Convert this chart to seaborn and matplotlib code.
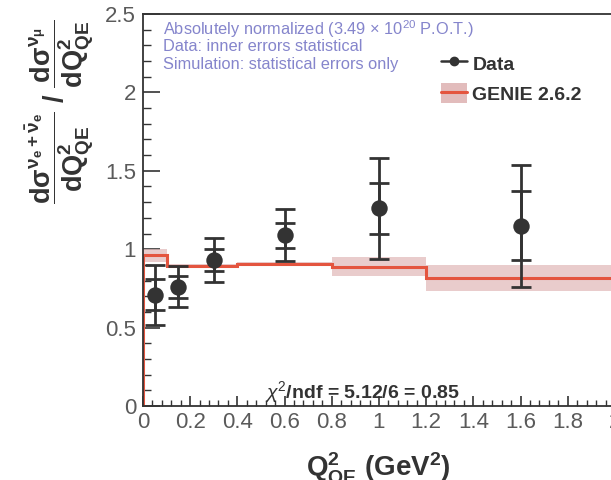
import numpy as np
import matplotlib
matplotlib.use("Agg")
import matplotlib.pyplot as plt
import seaborn as sns
from matplotlib.lines import Line2D
from matplotlib.patches import Patch
from matplotlib.ticker import MultipleLocator

# ── DATA ─────────────────────────────────────────────────────────────────────
q2_points = [0.05, 0.15, 0.3, 0.6, 1.0, 1.6]
ratio     = [0.71, 0.76, 0.93, 1.09, 1.26, 1.15]
err_stat  = [0.10, 0.07, 0.07, 0.08, 0.16, 0.22]
err_total = [0.19, 0.13, 0.14, 0.165, 0.32, 0.39]

genie_edges = [0.0, 0.1, 0.2, 0.4, 0.8, 1.2, 2.0]
genie_ratio = [0.96, 0.895, 0.895, 0.906, 0.888, 0.814]
genie_err   = [0.04, 0.012, 0.010, 0.012, 0.06, 0.083]

x_ticks = [0, 0.2, 0.4, 0.6, 0.8, 1, 1.2, 1.4, 1.6, 1.8, 2]
y_ticks = [0, 0.5, 1, 1.5, 2, 2.5]

# ── STYLE ────────────────────────────────────────────────────────────────────
sns.set_theme(style="ticks")
plt.rcParams["font.family"] = ["Liberation Sans", "DejaVu Sans"]
plt.rcParams["mathtext.fontset"] = "custom"
plt.rcParams["mathtext.rm"] = "Liberation Sans"
plt.rcParams["mathtext.bf"] = "Liberation Sans:bold"
plt.rcParams["mathtext.it"] = "Liberation Sans:italic"

dark = "#333333"
red = "#e4553f"
band = "#e2bcbc"

fig = plt.figure(figsize=(6.11, 4.8), dpi=100)
ax = fig.add_axes([0.234, 0.154, 0.7725, 0.817])

# GENIE band + histogram
lo = np.array(genie_ratio) - np.array(genie_err)
hi = np.array(genie_ratio) + np.array(genie_err)
ax.fill_between(genie_edges, np.append(lo, lo[-1]), np.append(hi, hi[-1]),
                step="post", color=band, alpha=0.75, lw=0)
ax.stairs(genie_ratio, genie_edges, baseline=0, color=red, lw=2.2)

# Data: outer (total) and inner (stat) error bars
ax.errorbar(q2_points, ratio, yerr=err_total, fmt="none", ecolor=dark,
            elinewidth=2, capsize=7, capthick=2)
ax.errorbar(q2_points, ratio, yerr=err_stat, fmt="none", ecolor=dark,
            elinewidth=2, capsize=7, capthick=2)
sns.scatterplot(x=q2_points, y=ratio, s=140, color=dark, edgecolor=dark,
                linewidth=0, ax=ax, zorder=5)

ax.set_xlim(0, 2)
ax.set_ylim(0, 2.5)
ax.set_xticks(x_ticks)
ax.set_xticklabels([f"{t:g}" for t in x_ticks])
ax.set_yticks(y_ticks)
ax.set_yticklabels([f"{t:g}" for t in y_ticks])
ax.xaxis.set_minor_locator(MultipleLocator(0.04))
ax.yaxis.set_minor_locator(MultipleLocator(0.1))
ax.tick_params(axis="both", which="major", direction="in", labelsize=16,
               labelcolor="#5a5a5a", color=dark, width=1.2)
ax.tick_params(axis="y", which="major", length=12, pad=5)
ax.tick_params(axis="x", which="major", length=7, pad=4)
ax.tick_params(axis="y", which="minor", direction="in", length=6, color=dark, width=1)
ax.tick_params(axis="x", which="minor", direction="in", length=4, color=dark, width=1)
for s in ax.spines.values():
    s.set_color(dark)
    s.set_linewidth(1.3)

# annotations
note_color = "#8585cc"
ax.text(0.085, 2.40, r"Absolutely normalized (3.49 $\times$ 10$^{20}$ P.O.T.)",
        color=note_color, fontsize=11.8, va="center")
ax.text(0.085, 2.29, "Data: inner errors statistical",
        color=note_color, fontsize=11.8, va="center")
ax.text(0.085, 2.18, "Simulation: statistical errors only",
        color=note_color, fontsize=11.8, va="center")

ax.text(0.93, 0.09, r"$\chi^{2}$/ndf = 5.12/6 = 0.85", ha="center", va="center",
        fontsize=14, fontweight="bold", color=dark)

handles = [
    Line2D([], [], color=dark, lw=1.8, marker="o", markersize=6),
    (Patch(facecolor=band, edgecolor="none"), Line2D([], [], color=red, lw=2.2)),
]
leg = ax.legend(handles, ["Data", "GENIE 2.6.2"], loc="upper left",
                bbox_to_anchor=(0.595, 0.945), frameon=False,
                prop={"weight": "bold", "size": 14}, labelcolor=dark,
                handlelength=1.3, handletextpad=0.3, labelspacing=0.5,
                handleheight=1.2)

fig.text(0.619, 0.02, r"$\mathbf{Q^{2}_{QE}}$ $\mathbf{(GeV^{2})}$",
         ha="center", va="center", fontsize=20, color=dark)

ylabel = (r"$\mathbf{\dfrac{d\sigma^{\nu_e+\bar{\nu}_e}}{dQ^{2}_{QE}}}$"
          r" $\mathbf{/}$ "
          r"$\mathbf{\dfrac{d\sigma^{\nu_\mu}}{dQ^{2}_{QE}}}$")
fig.text(0.098, 0.767, ylabel, rotation=90, ha="center", va="center",
         fontsize=19.5, color=dark)

plt.savefig("out.png", dpi=100)
